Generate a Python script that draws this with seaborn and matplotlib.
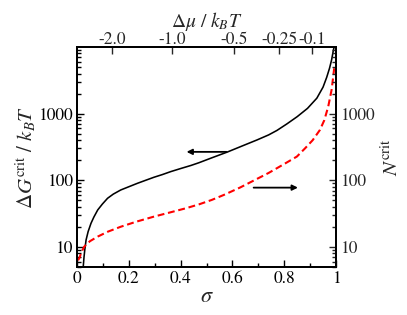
import matplotlib
matplotlib.use("Agg")
import matplotlib.pyplot as plt
import matplotlib.ticker as mticker
import seaborn as sns
import pandas as pd

# ---- data ----
sigma_g = [0.024, 0.027, 0.030, 0.035, 0.043, 0.054, 0.065, 0.08, 0.098, 0.118,
           0.14, 0.169, 0.2, 0.233, 0.265, 0.297, 0.33, 0.362, 0.40, 0.44,
           0.47, 0.52, 0.58, 0.64, 0.695, 0.74, 0.772, 0.81, 0.85, 0.89,
           0.926, 0.95, 0.964, 0.975, 0.983, 0.99, 0.993]
dG_crit = [5.0, 7.0, 9.0, 12.7, 17, 22.6, 28, 35.9, 44, 53.7,
           62, 71.6, 80, 90, 100, 111, 122, 135, 150, 167,
           183, 217, 265, 330, 403, 480, 560, 700, 900, 1200,
           1706, 2500, 3500, 4800, 6400, 9000, 10000]

sigma_n = [0.004, 0.009, 0.018, 0.028, 0.05, 0.08, 0.12, 0.169, 0.23, 0.297,
           0.36, 0.42, 0.47, 0.52, 0.567, 0.63, 0.695, 0.74, 0.772, 0.81,
           0.849, 0.881, 0.91, 0.938, 0.955, 0.97, 0.983, 0.99, 0.993]
N_crit = [6.3, 6.8, 8.5, 10.1, 12.2, 14.3, 17, 20.1, 24, 28.5,
          33, 38, 43.4, 50.7, 60.3, 78, 105, 129, 152, 185,
          227, 303, 400, 570, 800, 1277, 2275, 3800, 4800]

x_ticks = [0, 0.2, 0.4, 0.6, 0.8, 1.0]
x_tick_labels = ["0", "0.2", "0.4", "0.6", "0.8", "1"]
y_ticks = [10, 100, 1000]
y_tick_labels = ["10", "100", "1000"]
top_tick_pos = [0.135, 0.368, 0.605, 0.78, 0.906]
top_tick_labels = ["-2.0", "-1.0", "-0.5", "-0.25", "-0.1"]

df_g = pd.DataFrame({"sigma": sigma_g, "val": dG_crit})
df_n = pd.DataFrame({"sigma": sigma_n, "val": N_crit})

sns.set_theme(style="white")
plt.rcParams["font.family"] = ["STIXGeneral", "DejaVu Serif"]
plt.rcParams["mathtext.fontset"] = "stix"

fig = plt.figure(figsize=(4.07, 3.15), dpi=100)
ax = fig.add_axes([77 / 407, 1 - 267 / 315, (336 - 77) / 407, 220 / 315])

sns.lineplot(data=df_g, x="sigma", y="val", ax=ax, color="black", lw=1.15,
             estimator=None, sort=False)
sns.lineplot(data=df_n, x="sigma", y="val", ax=ax, color="#ff0000", lw=1.5,
             estimator=None, sort=False, dashes=False, linestyle=(0, (3.3, 1.8)))

ax.set_yscale("log")
ax.set_xlim(0, 1)
ax.set_ylim(5, 10000)
ax.set_xticks(x_ticks)
ax.set_xticklabels(x_tick_labels)
ax.xaxis.set_minor_locator(mticker.MultipleLocator(0.1))
ax.set_yticks(y_ticks)
ax.set_yticklabels(y_tick_labels)
ax.yaxis.set_minor_locator(mticker.LogLocator(base=10, subs=range(2, 10), numticks=20))
ax.yaxis.set_minor_formatter(mticker.NullFormatter())

fs_tick = 12.5
ax.tick_params(axis="both", which="major", direction="in", length=5, width=1,
               labelsize=fs_tick, color="black", labelcolor="black", pad=3)
ax.tick_params(axis="both", which="minor", direction="in", length=3, width=1,
               color="black")
ax.tick_params(axis="x", which="both", bottom=True, top=False)
ax.tick_params(axis="y", which="both", left=True, right=False)
for s in ax.spines.values():
    s.set_color("black")
    s.set_linewidth(1.2)

ax.set_xlabel(r"$\sigma$", fontsize=16, labelpad=0)
ax.set_ylabel(r"$\Delta G^{\rm crit}$ / $k_B T$", fontsize=15, labelpad=0)

# right axis
axr = ax.twinx()
axr.set_yscale("log")
axr.set_ylim(ax.get_ylim())
axr.set_yticks(y_ticks)
axr.set_yticklabels(y_tick_labels)
axr.yaxis.set_minor_locator(mticker.LogLocator(base=10, subs=range(2, 10), numticks=20))
axr.yaxis.set_minor_formatter(mticker.NullFormatter())
axr.tick_params(axis="y", which="major", direction="in", length=5, width=1,
                labelsize=fs_tick, pad=3)
axr.tick_params(axis="y", which="minor", direction="in", length=3, width=1)
axr.set_ylabel(r"$N^{\rm crit}$", fontsize=15, labelpad=5)
axr.grid(False)

# top axis
axt = ax.twiny()
axt.set_xlim(ax.get_xlim())
axt.set_xticks(top_tick_pos)
axt.set_xticklabels(top_tick_labels)
axt.tick_params(axis="x", which="major", direction="in", length=5, width=1,
                labelsize=fs_tick, pad=-1)
axt.xaxis.set_minor_locator(mticker.NullLocator())
axt.set_xlabel(r"$\Delta\mu\ /\ k_B T$", fontsize=14, labelpad=4)
axt.grid(False)
for a in (axr, axt):
    for s in a.spines.values():
        s.set_color("black")
        s.set_linewidth(1.2)

# arrows
ax.annotate("", xy=(0.423, 267), xytext=(0.577, 267),
            arrowprops=dict(arrowstyle="-|>", color="black", lw=1.3,
                            mutation_scale=8, shrinkA=0, shrinkB=0))
ax.annotate("", xy=(0.853, 77.6), xytext=(0.682, 77.6),
            arrowprops=dict(arrowstyle="-|>", color="black", lw=1.3,
                            mutation_scale=8, shrinkA=0, shrinkB=0))

ax.grid(False)
fig.savefig("out.png", dpi=100)
